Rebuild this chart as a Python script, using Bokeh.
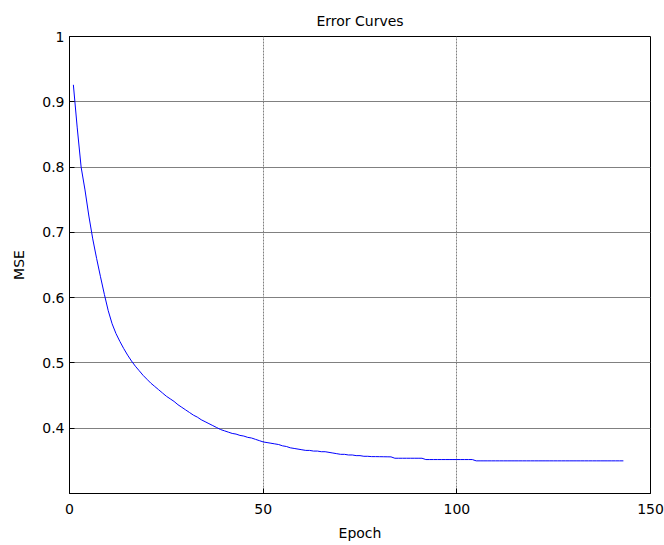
from bokeh.plotting import figure
from bokeh.models import FixedTicker, Range1d
from bokeh.embed import file_html
from bokeh.resources import INLINE

# ---- data ----
epochs = list(range(1, 144))
mse = [
    0.926, 0.860, 0.800, 0.765, 0.725, 0.690, 0.660, 0.632, 0.605, 0.580,
    0.560, 0.545, 0.533, 0.522, 0.512, 0.503, 0.495, 0.488, 0.481, 0.475,
    0.469, 0.464, 0.459, 0.454, 0.449, 0.445, 0.441, 0.436, 0.432, 0.428,
    0.424, 0.420, 0.417, 0.413, 0.410, 0.407, 0.404, 0.401, 0.398, 0.396,
    0.394, 0.392, 0.391, 0.389, 0.388, 0.386, 0.385, 0.383, 0.381, 0.379,
    0.378, 0.377, 0.376, 0.375, 0.373, 0.372, 0.370, 0.369, 0.368, 0.367,
    0.366, 0.366, 0.365, 0.365, 0.364, 0.364, 0.363, 0.362, 0.361, 0.360,
    0.360, 0.359, 0.359, 0.358, 0.358, 0.357, 0.357, 0.3565, 0.3565, 0.3564,
    0.3563, 0.3562, 0.3561, 0.354, 0.354, 0.354, 0.354, 0.354, 0.354, 0.354,
    0.354, 0.352, 0.352, 0.352, 0.352, 0.352, 0.352, 0.352, 0.352, 0.352,
    0.352, 0.352, 0.352, 0.352, 0.350, 0.350, 0.350, 0.350, 0.350, 0.350,
    0.350, 0.350, 0.350, 0.350, 0.350, 0.350, 0.350, 0.350, 0.350, 0.350,
    0.350, 0.350, 0.350, 0.350, 0.350, 0.350, 0.350, 0.350, 0.350, 0.350,
    0.350, 0.350, 0.350, 0.350, 0.350, 0.350, 0.350, 0.350, 0.350, 0.350,
    0.350, 0.350, 0.350,
]
x_ticks = [0, 50, 100, 150]
y_ticks = [0.4, 0.5, 0.6, 0.7, 0.8, 0.9, 1.0]
y_tick_labels = ["0.4", "0.5", "0.6", "0.7", "0.8", "0.9", "1"]
title_text = "Error Curves"
x_label = "Epoch"
y_label = "MSE"

FONT = "DejaVu Sans"
FS = "14px"

p = figure(width=664, height=545, output_backend="svg", toolbar_location=None,
           x_range=Range1d(0, 150), y_range=Range1d(0.3, 1.0),
           min_border_left=69, min_border_right=14, min_border_top=36,
           min_border_bottom=52, title=title_text)

p.title.text_font = FONT
p.title.text_font_size = FS
p.title.text_font_style = "normal"
p.title.align = "center"
p.title.text_color = "black"
p.title.standoff = 15

p.line(epochs, mse, line_color="#0000ff", line_width=1)

p.outline_line_color = "black"
p.outline_line_width = 1
p.outline_line_alpha = 1

for ax in (p.xaxis[0], p.yaxis[0]):
    ax.major_label_text_font = FONT
    ax.major_label_text_font_size = FS
    ax.major_label_text_color = "black"
    ax.axis_label_text_font = FONT
    ax.axis_label_text_font_size = FS
    ax.axis_label_text_font_style = "normal"
    ax.axis_label_text_color = "black"
    ax.axis_line_color = "black"
    ax.major_tick_line_color = "black"
    ax.major_tick_in = 5
    ax.major_tick_out = 0
    ax.minor_tick_line_color = None

p.xaxis[0].ticker = FixedTicker(ticks=x_ticks)
p.yaxis[0].ticker = FixedTicker(ticks=y_ticks)
p.yaxis[0].major_label_overrides = {t: l for t, l in zip(y_ticks, y_tick_labels)}
p.xaxis[0].axis_label = x_label
p.yaxis[0].axis_label = y_label
p.xaxis[0].major_label_standoff = 10
p.xaxis[0].axis_label_standoff = 8
p.yaxis[0].major_label_standoff = 5
p.yaxis[0].axis_label_standoff = 12

p.xgrid.ticker = FixedTicker(ticks=x_ticks)
p.ygrid.ticker = FixedTicker(ticks=y_ticks)
p.xgrid.grid_line_color = "#808080"
p.xgrid.grid_line_dash = "2 1"
p.ygrid.grid_line_color = "#808080"
p.grid.grid_line_width = 1

p.background_fill_color = "white"
p.border_fill_color = "white"

open("out.html", "w").write(file_html(p, INLINE))
